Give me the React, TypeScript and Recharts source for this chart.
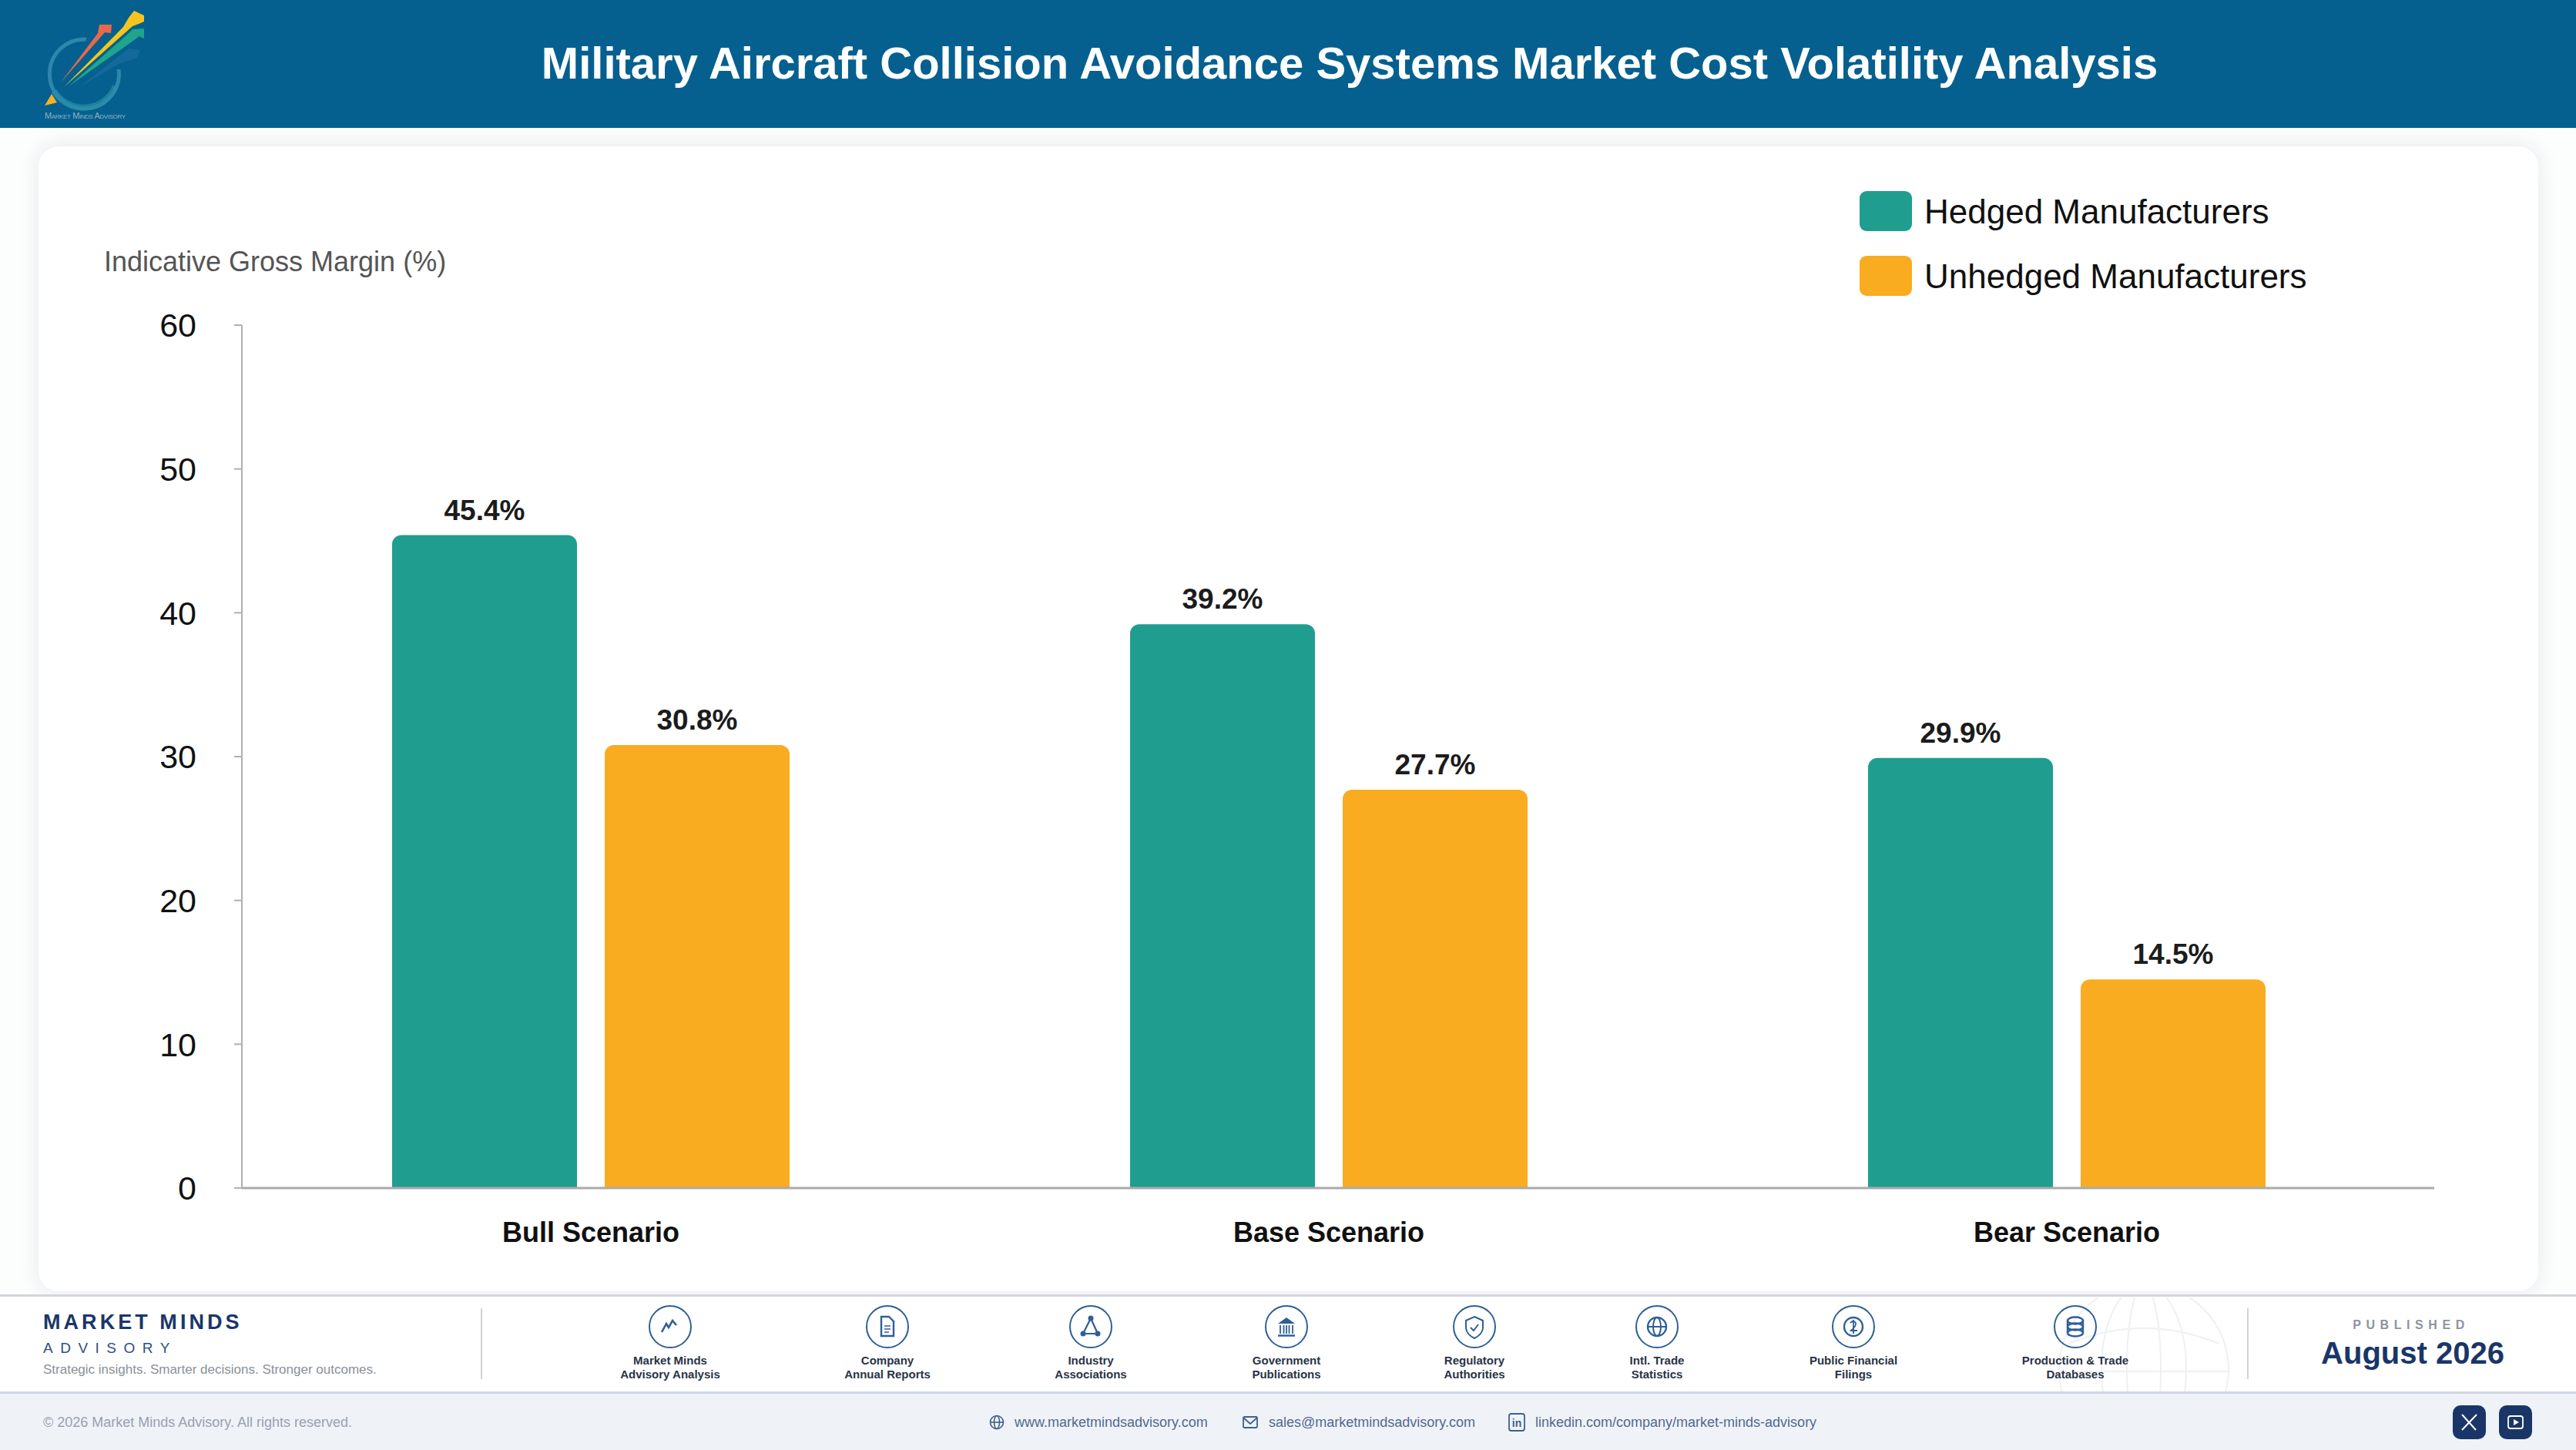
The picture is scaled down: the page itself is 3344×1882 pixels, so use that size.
import { BarChart, Bar, XAxis, YAxis, Legend, LabelList } from 'recharts'

// ── Data ───────────────────────────────────────────────────────────────────────

const TITLE = 'Military Aircraft Collision Avoidance Systems Market Cost Volatility Analysis'
const Y_LABEL = 'Indicative Gross Margin (%)'

const scenarios = ['Bull Scenario', 'Base Scenario', 'Bear Scenario']
const hedged = [45.4, 39.2, 29.9]
const unhedged = [30.8, 27.7, 14.5]
const yTicks = [0, 10, 20, 30, 40, 50, 60]

const chartData = scenarios.map((scenario, i) => ({
  scenario,
  hedged: hedged[i],
  unhedged: unhedged[i],
}))

const sources = [
  { x: 870, icon: 'chart', lines: ['Market Minds', 'Advisory Analysis'] },
  { x: 1152, icon: 'doc', lines: ['Company', 'Annual Reports'] },
  { x: 1416, icon: 'network', lines: ['Industry', 'Associations'] },
  { x: 1670, icon: 'bank', lines: ['Government', 'Publications'] },
  { x: 1914, icon: 'shield', lines: ['Regulatory', 'Authorities'] },
  { x: 2151, icon: 'globe', lines: ['Intl. Trade', 'Statistics'] },
  { x: 2406, icon: 'coin', lines: ['Public Financial', 'Filings'] },
  { x: 2694, icon: 'db', lines: ['Production & Trade', 'Databases'] },
]

// ── Colours ────────────────────────────────────────────────────────────────────

const TEAL = '#1f9e8f'
const AMBER = '#f9ac20'
const NAVY = '#1a3668'
const ICON = '#2f5f96'
const FONT = '"Liberation Sans", Arial, sans-serif'

// ── Small pieces ───────────────────────────────────────────────────────────────

function Txt({ x, y, size, color, bold, center, spacing, children }: any) {
  // y is the baseline
  return (
    <div
      style={{
        position: 'absolute',
        left: x,
        top: y - size * 0.97,
        height: size * 1.25,
        lineHeight: `${size * 1.25}px`,
        fontSize: size,
        color,
        fontWeight: bold ? 700 : 400,
        letterSpacing: spacing ?? 'normal',
        whiteSpace: 'nowrap',
        transform: center ? 'translateX(-50%)' : undefined,
      }}
    >
      {children}
    </div>
  )
}

function Logo() {
  return (
    <svg width={200} height={166} style={{ position: 'absolute', left: 0, top: 0 }}>
      <path d="M 112 51 A 45 45 0 1 0 154 90" fill="none" stroke="#2e86ab" strokeWidth={5} />
      <path d="M 70 118 A 45 45 0 0 0 150 112" fill="none" stroke="#2a8fa8" strokeWidth={8} opacity={0.7} />
      <polygon points="103,113 167,63 182,65 178,75 154,83" fill="#14699b" />
      <polygon points="79,107 127,43 129,32 145,32 144,43 136,42" fill="#e8694a" />
      <polygon points="89,112 165,45 172,38 187,37 187,50 181,47 170,55" fill="#1fa58c" />
      <polygon points="83,113 160,35 167,23 174,14 187,20 187,28 180,31 172,34" fill="#f6c51d" />
      <polygon points="58,137 67,122 74,133" fill="#f9b122" />
      <text x={58} y={154} fontSize={11} fill="#8fb0c4" style={{ fontVariant: 'small-caps' }} textLength={105}>
        Market Minds Advisory
      </text>
    </svg>
  )
}

function Watermark() {
  return (
    <svg width={300} height={123} style={{ position: 'absolute', left: 2633, top: 1684 }}>
      <g fill="none" stroke="#eef0f3" strokeWidth={2}>
        <circle cx={150} cy={93} r={110} />
        <ellipse cx={150} cy={93} rx={55} ry={110} />
        <ellipse cx={150} cy={93} rx={22} ry={110} />
        <path d="M 40 96 H 260" />
        <path d="M 52 60 Q 150 20 248 60" />
      </g>
    </svg>
  )
}

function SourceIcon({ kind }: { kind: string }) {
  let glyph = null
  if (kind === 'chart') {
    glyph = <path d="M 17 35 L 23 24 L 26 29 L 31 20 L 36 26" strokeWidth={2.6} />
  } else if (kind === 'doc') {
    glyph = (
      <>
        <path d="M 20 15 H 30 L 36 21 V 40 H 20 Z" strokeWidth={2.4} />
        <path d="M 24 27 H 32 M 24 31 H 32 M 24 35 H 30" strokeWidth={1.6} />
      </>
    )
  } else if (kind === 'network') {
    glyph = (
      <>
        <path d="M 28 17 L 18 37 H 37 Z" strokeWidth={2.2} />
        <circle cx={28} cy={17} r={2.5} fill={ICON} />
        <circle cx={18} cy={37} r={2.5} fill={ICON} />
        <circle cx={37} cy={37} r={2.5} fill={ICON} />
      </>
    )
  } else if (kind === 'bank') {
    glyph = (
      <>
        <polygon points="28,16 17,24 39,24" fill={ICON} stroke="none" />
        <path d="M 20 26 V 37 M 24.5 26 V 37 M 28 26 V 37 M 31.5 26 V 37 M 36 26 V 37" strokeWidth={1.8} />
        <path d="M 17 39.5 H 39" strokeWidth={2.5} />
      </>
    )
  } else if (kind === 'shield') {
    glyph = (
      <>
        <path d="M 28 15 L 39 20 V 30 Q 38 38 28 43 Q 18 38 17 30 V 20 Z" />
        <path d="M 23 29 L 27 33 L 33 25" />
      </>
    )
  } else if (kind === 'globe') {
    glyph = (
      <>
        <circle cx={28} cy={28} r={12} strokeWidth={2.4} />
        <ellipse cx={28} cy={28} rx={5} ry={12} />
        <path d="M 16 28 H 40" />
      </>
    )
  } else if (kind === 'coin') {
    glyph = (
      <>
        <circle cx={28} cy={28} r={12} strokeWidth={2.4} />
        <path d="M 24 23 Q 28 19 31 23 Q 32 27 25 33 H 33 M 28 19 V 37" strokeWidth={1.8} />
      </>
    )
  } else if (kind === 'db') {
    glyph = (
      <>
        <ellipse cx={28} cy={20} rx={10} ry={4.5} strokeWidth={2.4} />
        <ellipse cx={28} cy={28} rx={10} ry={4.5} strokeWidth={2.4} />
        <ellipse cx={28} cy={36} rx={10} ry={4.5} strokeWidth={2.4} />
        <path d="M 18 20 V 36 M 38 20 V 36" strokeWidth={2.4} />
      </>
    )
  }
  return (
    <svg width={56} height={56} style={{ display: 'block' }}>
      <g fill="none" stroke={ICON} strokeWidth={2}>
        <circle cx={28} cy={28} r={27} />
        {glyph}
      </g>
    </svg>
  )
}

function ChartLegend() {
  const items = [
    { name: 'Hedged Manufacturers', color: TEAL },
    { name: 'Unhedged Manufacturers', color: AMBER },
  ]
  return (
    <div>
      {items.map((it) => (
        <div key={it.name} style={{ display: 'flex', alignItems: 'center', height: 52, marginBottom: 32 }}>
          <div style={{ width: 68, height: 52, borderRadius: 9, backgroundColor: it.color }} />
          <span style={{ marginLeft: 16, fontSize: 44, color: '#111', fontFamily: FONT, position: 'relative', top: 1 }}>
            {it.name}
          </span>
        </div>
      ))}
    </div>
  )
}

function Card() {
  return (
    <div
      style={{
        position: 'absolute',
        left: 50,
        top: 190,
        width: 3245,
        height: 1486,
        borderRadius: 26,
        backgroundColor: '#fff',
        boxShadow: '0 0 28px rgba(40,50,70,0.10)',
      }}
    />
  )
}

function Footer() {
  return (
    <>
      <div style={{ position: 'absolute', left: 0, top: 1680, width: 3344, height: 127, backgroundColor: '#fff', borderTop: '3px solid #d3d5d9', boxSizing: 'border-box' }} />
      <Watermark />
      <div style={{ position: 'absolute', left: 0, top: 1806, width: 3344, height: 76, backgroundColor: '#eff3f8', borderTop: '3px solid #d0d6e3', boxSizing: 'border-box' }} />

      <Txt x={56} y={1726} size={27} color={NAVY} bold spacing="0.15em">MARKET MINDS</Txt>
      <Txt x={56} y={1756} size={19} color="#2f4f80" spacing="0.5em">ADVISORY</Txt>
      <Txt x={56} y={1783} size={17} color="#8b909a">Strategic insights. Smarter decisions. Stronger outcomes.</Txt>

      <div style={{ position: 'absolute', left: 624, top: 1698, width: 2, height: 92, backgroundColor: '#d0d2d6' }} />
      <div style={{ position: 'absolute', left: 2917, top: 1698, width: 2, height: 92, backgroundColor: '#d0d2d6' }} />

      {sources.map((s) => (
        <div key={s.icon}>
          <div style={{ position: 'absolute', left: s.x - 28, top: 1694 }}>
            <SourceIcon kind={s.icon} />
          </div>
          <Txt x={s.x} y={1772} size={15} color="#2a3347" bold center>{s.lines[0]}</Txt>
          <Txt x={s.x} y={1790} size={15} color="#2a3347" bold center>{s.lines[1]}</Txt>
        </div>
      ))}

      <Txt x={3130} y={1726} size={16} color="#8f93a0" bold center spacing="0.41em">PUBLISHED</Txt>
      <Txt x={3132} y={1770} size={40} color={NAVY} bold center>August 2026</Txt>

      <Txt x={56} y={1852} size={18} color="#9aa1b0">© 2026 Market Minds Advisory. All rights reserved.</Txt>

      <svg width={26} height={26} style={{ position: 'absolute', left: 1281, top: 1833 }}>
        <g fill="none" stroke="#40608c" strokeWidth={1.6}>
          <circle cx={13} cy={13} r={8.5} />
          <ellipse cx={13} cy={13} rx={3.5} ry={8.5} />
          <path d="M 4.5 13 H 21.5" />
        </g>
      </svg>
      <Txt x={1317} y={1852} size={18} color="#52698f">www.marketmindsadvisory.com</Txt>

      <svg width={26} height={26} style={{ position: 'absolute', left: 1610, top: 1833 }}>
        <g fill="none" stroke="#40608c" strokeWidth={1.8}>
          <rect x={4} y={6} width={18} height={14} rx={1.5} />
          <path d="M 4 7 L 13 15 L 22 7" />
        </g>
      </svg>
      <Txt x={1647} y={1852} size={18} color="#52698f">sales@marketmindsadvisory.com</Txt>

      <svg width={26} height={28} style={{ position: 'absolute', left: 1956, top: 1832 }}>
        <rect x={3} y={3} width={20} height={22} rx={3} fill="none" stroke="#40608c" strokeWidth={1.8} />
        <text x={13} y={20} fontSize={14} fontWeight={700} textAnchor="middle" fill="#40608c">in</text>
      </svg>
      <Txt x={1993} y={1852} size={18} color="#52698f">linkedin.com/company/market-minds-advisory</Txt>

      <div style={{ position: 'absolute', left: 3184, top: 1824, width: 43, height: 44, borderRadius: 10, backgroundColor: NAVY }}>
        <svg width={43} height={44}>
          <path d="M 12 12 L 30 32 M 31 12 L 12 32" stroke="#fff" strokeWidth={2} />
        </svg>
      </div>
      <div style={{ position: 'absolute', left: 3244, top: 1824, width: 43, height: 44, borderRadius: 10, backgroundColor: NAVY }}>
        <svg width={43} height={44}>
          <rect x={12} y={14} width={19} height={16} rx={3} fill="none" stroke="#fff" strokeWidth={1.8} />
          <polygon points="19,18 26,22 19,26" fill="#fff" />
        </svg>
      </div>
    </>
  )
}

// ── Component ──────────────────────────────────────────────────────────────────

export default function App() {
  return (
    <div
      style={{
        position: 'absolute',
        left: 0,
        top: 0,
        width: 3344,
        height: 1882,
        overflow: 'hidden',
        backgroundColor: '#fcfdfd',
        fontFamily: FONT,
      }}
    >
      <div style={{ position: 'absolute', left: 0, top: 0, width: 3344, height: 166, backgroundColor: '#05608f' }} />
      <Logo />
      <Txt x={1752} y={102} size={58} color="#fff" bold center>{TITLE}</Txt>

      <Card />

      <div style={{ position: 'absolute', left: 0, top: 0 }}>
        <BarChart
          width={3344}
          height={1680}
          data={chartData}
          margin={{ top: 422, right: 184, bottom: 0, left: 0 }}
          barSize={240}
          barGap={36}
          style={{ fontFamily: FONT }}
        >
          <XAxis
            dataKey="scenario"
            height={138}
            padding={{ left: -26, right: -2 }}
            axisLine={{ stroke: '#aaaaaa', strokeWidth: 3 }}
            tickLine={false}
            tickSize={0}
            tickMargin={44}
            tick={{ fill: '#111111', fontSize: 36, fontWeight: 700 }}
            interval={0}
          />
          <YAxis
            width={314}
            domain={[0, 60]}
            ticks={yTicks}
            axisLine={{ stroke: '#b0b0b0', strokeWidth: 2 }}
            tickLine={{ stroke: '#b0b0b0', strokeWidth: 2 }}
            tickSize={10}
            tickMargin={49}
            tick={{ fill: '#111111', fontSize: 43 }}
            label={() => (
              <text x={135} y={352} fontSize={36} fill="#555555">
                {Y_LABEL}
              </text>
            )}
          />
          <Legend
            layout="vertical"
            align="center"
            verticalAlign="middle"
            wrapperStyle={{ left: 2414, top: 248, width: 800 }}
            content={() => <ChartLegend />}
          />
          <Bar dataKey="hedged" name="Hedged Manufacturers" fill={TEAL} radius={[12, 12, 0, 0]} isAnimationActive={false}>
            <LabelList
              dataKey="hedged"
              position="top"
              offset={20}
              formatter={(v: any) => `${Number(v).toFixed(1)}%`}
              style={{ fill: '#1c1c1c', fontSize: 37, fontWeight: 700 }}
            />
          </Bar>
          <Bar dataKey="unhedged" name="Unhedged Manufacturers" fill={AMBER} radius={[12, 12, 0, 0]} isAnimationActive={false}>
            <LabelList
              dataKey="unhedged"
              position="top"
              offset={20}
              formatter={(v: any) => `${Number(v).toFixed(1)}%`}
              style={{ fill: '#1c1c1c', fontSize: 37, fontWeight: 700 }}
            />
          </Bar>
        </BarChart>
      </div>

      <Footer />
    </div>
  )
}
